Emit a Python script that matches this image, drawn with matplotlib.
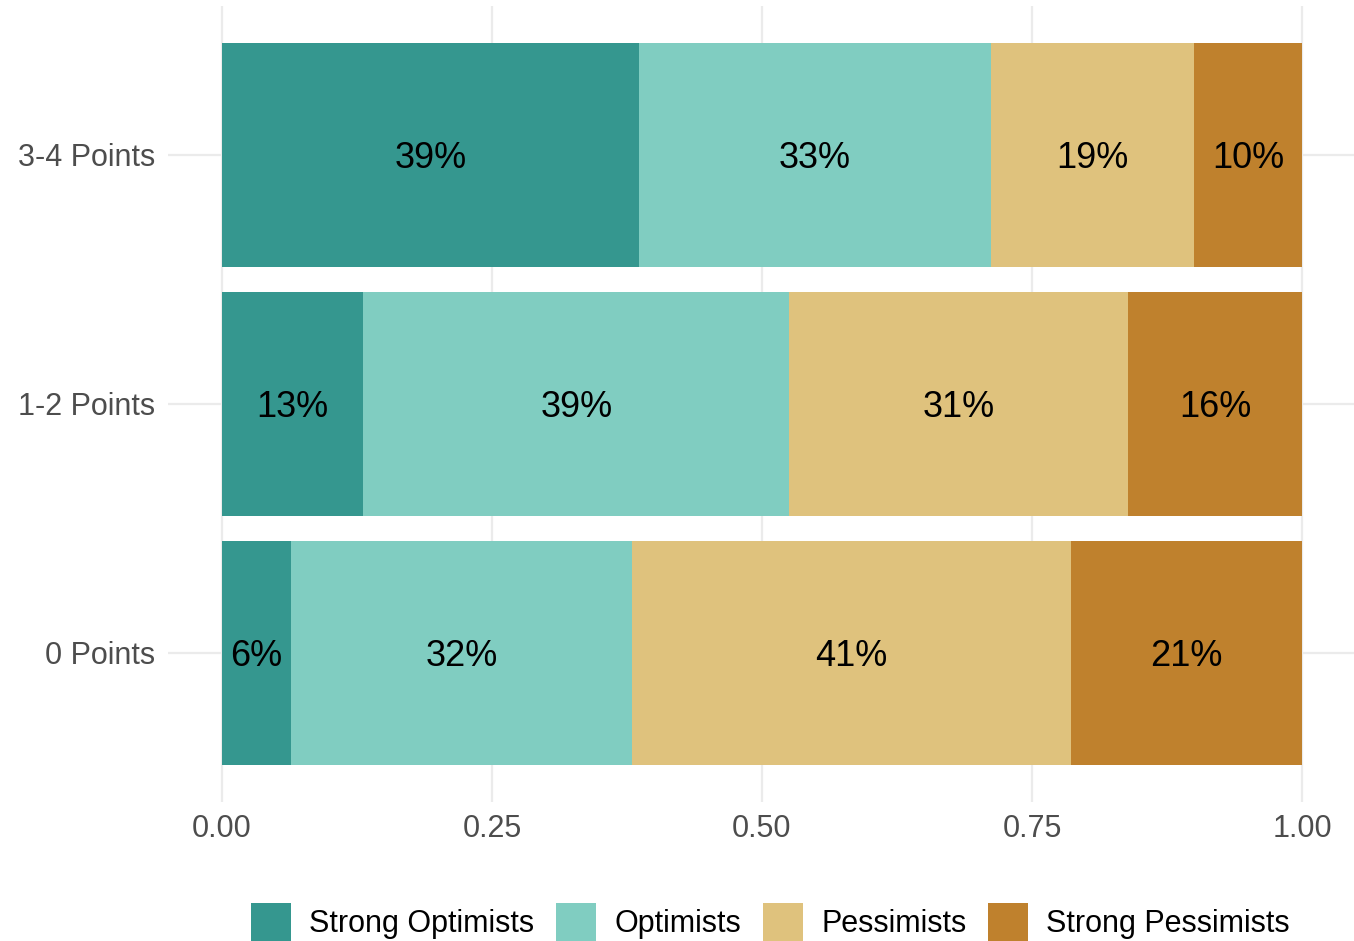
import matplotlib
matplotlib.use("Agg")
import matplotlib.pyplot as plt
import numpy as np

categories = ["0 Points", "1-2 Points", "3-4 Points"]
series = ["Strong Optimists", "Optimists", "Pessimists", "Strong Pessimists"]
strong_opt = [0.064, 0.131, 0.386]
optimists = [0.316, 0.394, 0.326]
pessimists = [0.406, 0.314, 0.188]
strong_pess = [0.214, 0.161, 0.100]
colors = ["#35978f", "#80cdc1", "#dfc27d", "#bf812d"]
xticks = [0.0, 0.25, 0.5, 0.75, 1.0]
xticklabels = ["0.00", "0.25", "0.50", "0.75", "1.00"]

plt.rcParams["font.family"] = ["Liberation Sans", "DejaVu Sans"]

W, H = 1354, 941
fig = plt.figure(figsize=(W / 100, H / 100), dpi=100)
left, right, top, bottom = 168, 1356, 5.6, 802
ax = fig.add_axes([left / W, 1 - bottom / H, (right - left) / W, (bottom - top) / H])

ypos = np.arange(1, len(categories) + 1)
data = [strong_opt, optimists, pessimists, strong_pess]
lefts = np.zeros(len(categories))
for name, vals, col in zip(series, data, colors):
    vals = np.array(vals)
    ax.barh(ypos, vals, left=lefts, height=0.9, color=col, label=name, linewidth=0, zorder=2)
    for y, l, v in zip(ypos, lefts, vals):
        ax.text(l + v / 2, y, f"{round(v * 100):.0f}%", ha="center", va="center_baseline",
                fontsize=26, color="black", zorder=3)
    lefts = lefts + vals

ax.set_xlim(-0.05, 1.05)
ax.set_ylim(0.4, 3.6)
ax.set_yticks(ypos)
ax.set_yticklabels(categories)
ax.set_xticks(xticks)
ax.set_xticklabels(xticklabels)
ax.tick_params(axis="both", length=0, labelsize=22, labelcolor="#4d4d4d")
ax.tick_params(axis="y", pad=9.5)
ax.tick_params(axis="x", pad=8.8)
ax.grid(True, color="#ebebeb", linewidth=1.6, zorder=0)
ax.set_axisbelow(True)
for s in ax.spines.values():
    s.set_visible(False)

handles, labels = ax.get_legend_handles_labels()
fig.legend(handles, labels, loc="center", bbox_to_anchor=(770.5 / W, 1 - 922.5 / H),
           ncol=4, frameon=False, fontsize=22, handlelength=1.31, handleheight=1.63,
           handletextpad=0.59, columnspacing=0.72, borderpad=0, borderaxespad=0)

fig.savefig("out.png", dpi=100)
